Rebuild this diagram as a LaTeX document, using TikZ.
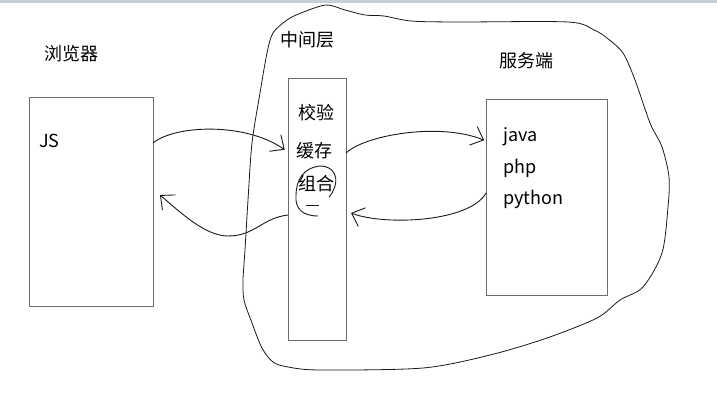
\documentclass[tikz,border=0pt]{standalone}
\usepackage{fontspec}
\setmainfont{Noto Sans CJK SC}
\usetikzlibrary{arrows.meta}

\definecolor{boxgray}{RGB}{110,110,110}
\definecolor{penblack}{RGB}{25,25,25}
\definecolor{barblue}{RGB}{200,207,219}

\tikzset{
  box/.style={draw=boxgray, line width=1pt, inner sep=0pt, outer sep=0pt},
  label/.style={inner sep=0pt, font=\fontsize{18}{22}\selectfont},
  hand/.style={draw=penblack, line width=0.9pt},
  handarrow/.style={hand, -{Straight Barb[length=11pt,width=20pt,line width=0.9pt]}}
}

\begin{document}
\begin{tikzpicture}[x=1pt,y=-1pt]
\useasboundingbox (0,0) rectangle (717,401);
\fill[barblue] (0,0) rectangle (717,3);

% the three boxes
\node[box, minimum width=124pt, minimum height=208pt] at (91,202) (browser) {};
\node[box, minimum width=58pt, minimum height=261pt] at (317,209.5) (middle) {};
\node[box, minimum width=121pt, minimum height=195pt] at (546.5,197.5) (server) {};

% titles
\node[label] at (71,54) (browsertitle) {浏览器};
\node[label] at (307,40) (middletitle) {中间层};
\node[label] at (526,61) (servertitle) {服务端};

% box contents
\node[label, anchor=base west] at (39,147) (js) {JS};
\node[label, anchor=west] at (298,113) (check) {校验};
\node[label, anchor=west] at (296,151) (cache) {缓存};
\node[label, anchor=west] at (298,184) (merge) {组合};
\node[label, anchor=base west] at (503,141) (java) {java};
\node[label, anchor=base west] at (503,173) (php) {php};
\node[label, anchor=base west] at (503,204) (python) {python};

% outline round the middle layer and the server
\draw[hand, line width=0.8pt] plot[smooth cycle, tension=0.5] coordinates {
  (267,53) (273,33) (287,20) (301,13) (326,5) (345,10) (365,15) (384,16)
  (411,21) (457,22) (568,22) (594,30) (607,38) (623,53) (635,80) (650,123)
  (662,147) (669,177) (668,207) (662,253) (643,287) (620,300) (597,318)
  (547,338) (490,355) (423,368) (320,370) (288,367) (273,362) (262,348)
  (252,323) (244,300) (243,280) (245,250) (248,200) (252,143) (260,93)};

% requests and answers
\draw[handarrow, shorten >=4pt] (browser.east |- 0,143) .. controls (175,125) and (245,122) .. (middle.west |- 0,152);
\draw[handarrow] (middle.west |- 0,215) .. controls (262,218) and (255,236) .. (228,236) .. controls (205,236) and (180,212) .. (160,195);
\draw[handarrow, shorten >=2pt] (middle.east |- 0,153) .. controls (365,135) and (440,122) .. (server.west |- 0,141);
\draw[handarrow] (server.west |- 0,193) .. controls (470,222) and (385,226) .. (351,213);

% loop round the merge step
\draw[hand] (318,216) .. controls (302,216) and (295,208) .. (296,196)
  .. controls (296,180) and (303,168) .. (320,166)
  .. controls (333,166) and (338,176) .. (335,186)
  .. controls (333,192) and (331,195) .. (329,197);
\draw[hand] (306,205) -- (319,205);

\end{tikzpicture}
\end{document}
